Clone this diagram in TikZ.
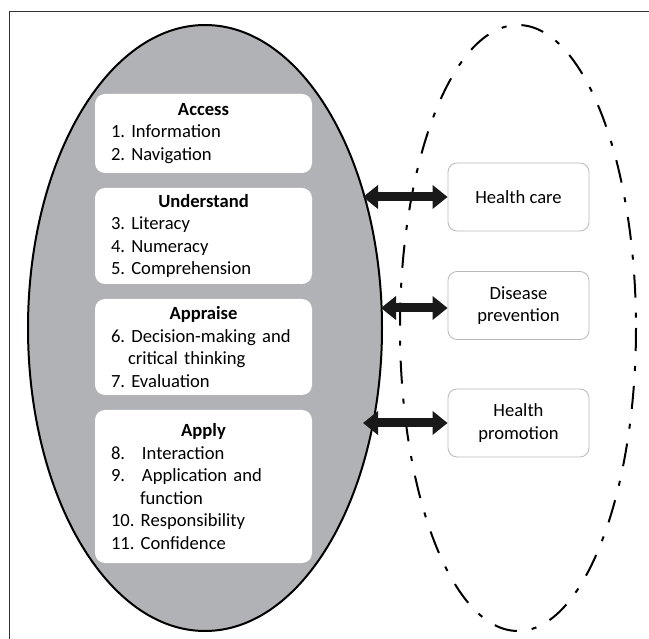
\documentclass[tikz,border=0pt]{standalone}
\usepackage{fontspec}
\setmainfont{Carlito}
\usetikzlibrary{arrows.meta}
\definecolor{litgray}{RGB}{177,178,181}
\frenchspacing

\begin{document}
\begin{tikzpicture}[x=1pt, y=-1pt,
		every node/.style={font=\fontsize{18.6}{22.5}\selectfont},
		skillbox/.style={fill=white, rounded corners=10pt, minimum width=217pt, text width=185pt, inner xsep=16pt, inner ysep=0pt, align=left},
		areabox/.style={draw=gray!55, line width=0.8pt, fill=white, rounded corners=9pt, minimum width=141pt, minimum height=68pt, inner sep=0pt, align=center},
		link/.style={line width=9pt, black!90, {Triangle[length=15pt, width=23pt]}-{Triangle[length=15pt, width=23pt]}}]
				\useasboundingbox (0,0) rectangle (649,639);
				\draw[line width=1.2pt, black!80] (9.5,639) -- (9.5,11.5) -- (649,11.5);
				\filldraw[fill=litgray, line width=2pt] (205,328) ellipse [x radius=177, y radius=303];
				\draw[line width=2pt, dash pattern=on 23pt off 15pt on 5pt off 15pt] (518,328) ellipse [x radius=118, y radius=303];
				\node[skillbox, minimum height=79pt] (access) at (203.5,133.5) {\hfill\textbf{Access}\hfill\null\\1. Information\\2. Navigation};
				\node[skillbox, minimum height=96pt] (understand) at (203.5,236) {\hfill\textbf{Understand}\hfill\null\\3. Literacy\\4. Numeracy\\5. Comprehension};
				\node[skillbox, minimum height=96pt] (appraise) at (203.5,347) {\hfill\textbf{Appraise}\hfill\null\\6. Decision-making and\\\hspace*{17pt}critical thinking\\7. Evaluation};
				\node[skillbox, minimum height=153pt] (apply) at (203.5,486.5) {\hfill\textbf{Apply}\hfill\null\\\makebox[31pt][l]{8.}Interaction\\\makebox[31pt][l]{9.}Application and\\\hspace*{29pt}function\\10. Responsibility\\11. Confidence};
				\node[areabox] (hcare) at (518.5,197) {Health care};
				\node[areabox] (dprev) at (518.5,305.5) {Disease\\prevention};
				\node[areabox] (hprom) at (518.5,423) {Health\\promotion};
				\coordinate (e1) at (363,197);
				\coordinate (e2) at (381,308);
				\coordinate (e3) at (363,423);
				\draw[link] (e1) -- (hcare.west);
				\draw[link] (e2) -- (e2 -| dprev.west);
				\draw[link] (e3) -- (hprom.west);
\end{tikzpicture}
\end{document}
